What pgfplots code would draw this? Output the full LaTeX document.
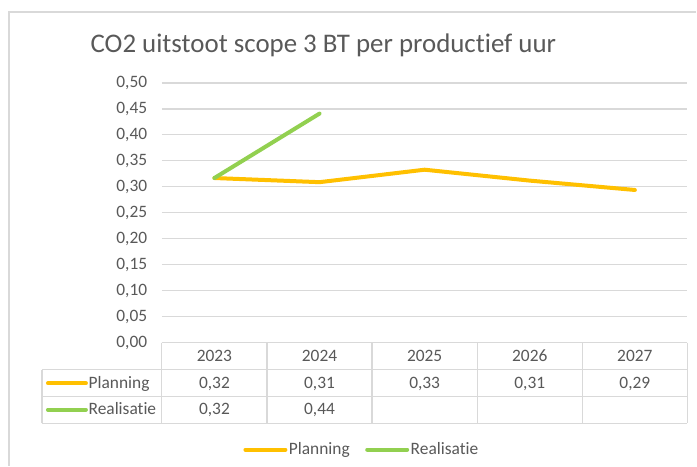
\documentclass[border=0pt]{standalone}
\usepackage{pgfplots}
\pgfplotsset{compat=1.18}
\usepackage{fontspec}
\setmainfont{Carlito}[Ligatures=NoCommon]
\definecolor{plan}{HTML}{FFC000}
\definecolor{real}{HTML}{92D050}
\definecolor{gridc}{HTML}{D9D9D9}
\definecolor{txt}{HTML}{595959}
\newcommand\tfont{\fontsize{17.4}{20}\selectfont}
\begin{document}
\begin{tikzpicture}[x=1pt,y=-1pt]
\fill[white] (0,0) rectangle (697,466);
\draw[gridc, line width=1.2pt] (9,466) -- (9,12) -- (697,12);
\node[anchor=base west, inner sep=0, text=txt, font=\fontsize{26.9}{30}\selectfont] at (90.5,53) {CO2 uitstoot scope 3 BT per productief uur};
\begin{axis}[at={(162pt,-343pt)}, anchor=south west, scale only axis,
  width=526pt, height=260pt,
  xmin=-0.5, xmax=4.5, ymin=0, ymax=0.5,
  xtick=\empty,
  ytick={0,0.05,0.1,0.15,0.2,0.25,0.3,0.35,0.4,0.45,0.5},
  axis line style={draw=none}, major tick length=0pt,
  ymajorgrids, grid style={gridc, line width=1.2pt},
  yticklabel style={text=txt, font=\tfont, xshift=-11.2pt},
  /pgf/number format/use comma,
  /pgf/number format/fixed,
  /pgf/number format/fixed zerofill,
  /pgf/number format/precision=2,
  /pgf/number format/assume math mode=true,
  legend style={at={(0.38,-0.4115)}, anchor=center, draw=none, fill=none,
    font=\tfont, text=txt, legend columns=2,
    nodes={inner sep=1.5pt},
    /tikz/every even column/.append style={column sep=14pt}},
  legend image code/.code={\draw[#1] (0pt,0pt) -- (40pt,0pt);},
  every axis plot/.append style={line width=4pt, line cap=round, line join=round},
]
\addplot[plan] coordinates {(0,0.317) (1,0.309) (2,0.333) (3,0.312) (4,0.294)};
\addlegendentry{Planning}
\addplot[real] coordinates {(0,0.317) (1,0.441)};
\addlegendentry{Realisatie}
\end{axis}
% data table
\begin{scope}[gridc, line width=1.2pt]
\draw (162,343) -- (688,343);
\draw (42,370) -- (688,370);
\draw (42,397) -- (688,397);
\draw (42,423.5) -- (688,423.5);
\draw (42,370) -- (42,423.5);
\foreach \x in {162,267.2,372.4,477.6,582.8,688} \draw (\x,343) -- (\x,423.5);
\end{scope}
\begin{scope}[every node/.style={anchor=base, inner sep=0, text=txt, font=\tfont}]
\foreach \x/\t in {214.6/2023,319.8/2024,425/2025,530.2/2026,635.4/2027}
  \node at (\x,362) {\t};
\foreach \x/\t in {214.6/{0,32},319.8/{0,31},425/{0,33},530.2/{0,31},635.4/{0,29}}
  \node at (\x,388.5) {\t};
\foreach \x/\t in {214.6/{0,32},319.8/{0,44}}
  \node at (\x,415) {\t};
\node[anchor=base west] at (88.5,388.5) {Planning};
\node[anchor=base west] at (88.5,415) {Realisatie};
\end{scope}
\draw[plan, line width=4pt, line cap=round] (48,383.5) -- (86,383.5);
\draw[real, line width=4pt, line cap=round] (48,410) -- (86,410);
\end{tikzpicture}
\end{document}
